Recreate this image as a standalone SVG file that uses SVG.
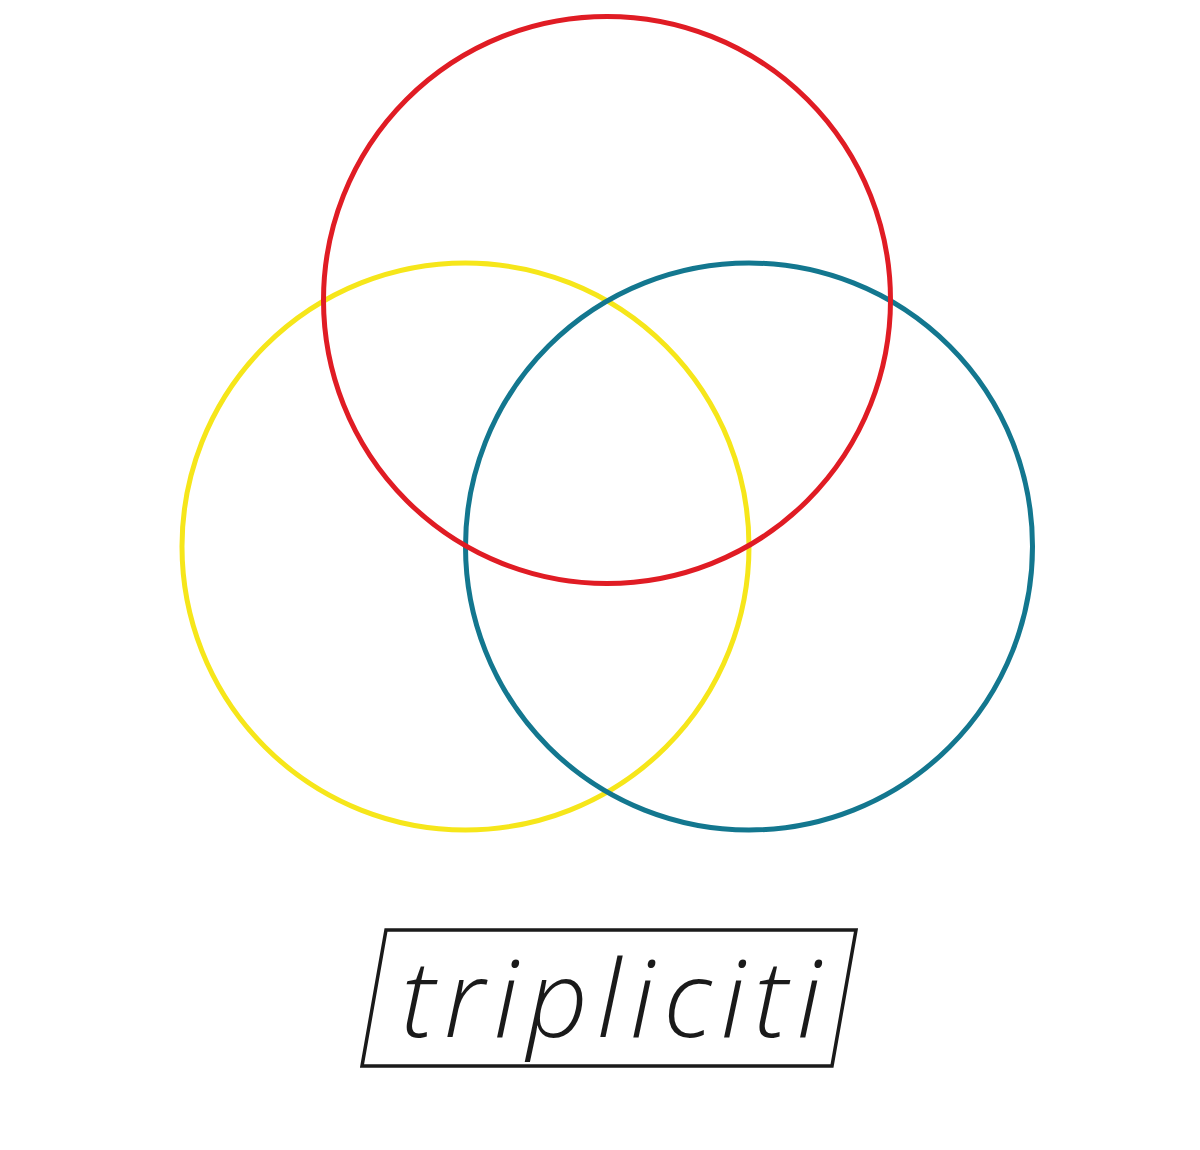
<svg xmlns="http://www.w3.org/2000/svg" width="1200" height="1150" viewBox="0 0 1200 1150">
<style>
.ring{fill:none;stroke-width:5}
.lbl{font-family:"Open Sans","Noto Sans",sans-serif;font-style:italic;font-weight:300;font-size:107px;fill:#1a1a1a}
</style>
<rect width="1200" height="1150" fill="#fff"/>
<g id="yellow"><circle class="ring" cx="465.5" cy="546.5" r="283.5" stroke="#F6E61A"/></g>
<g id="blue"><circle class="ring" cx="749" cy="546.5" r="283.5" stroke="#13778F"/></g>
<g id="red"><circle class="ring" cx="607" cy="300" r="283.5" stroke="#E01C24"/></g>
<g id="title">
<polygon points="386,930 856,930 832,1066 362,1066" fill="none" stroke="#1a1a1a" stroke-width="3.5"/>
<text class="lbl" x="401" y="1037" textLength="420" lengthAdjust="spacing">tripliciti</text>
</g>
</svg>
